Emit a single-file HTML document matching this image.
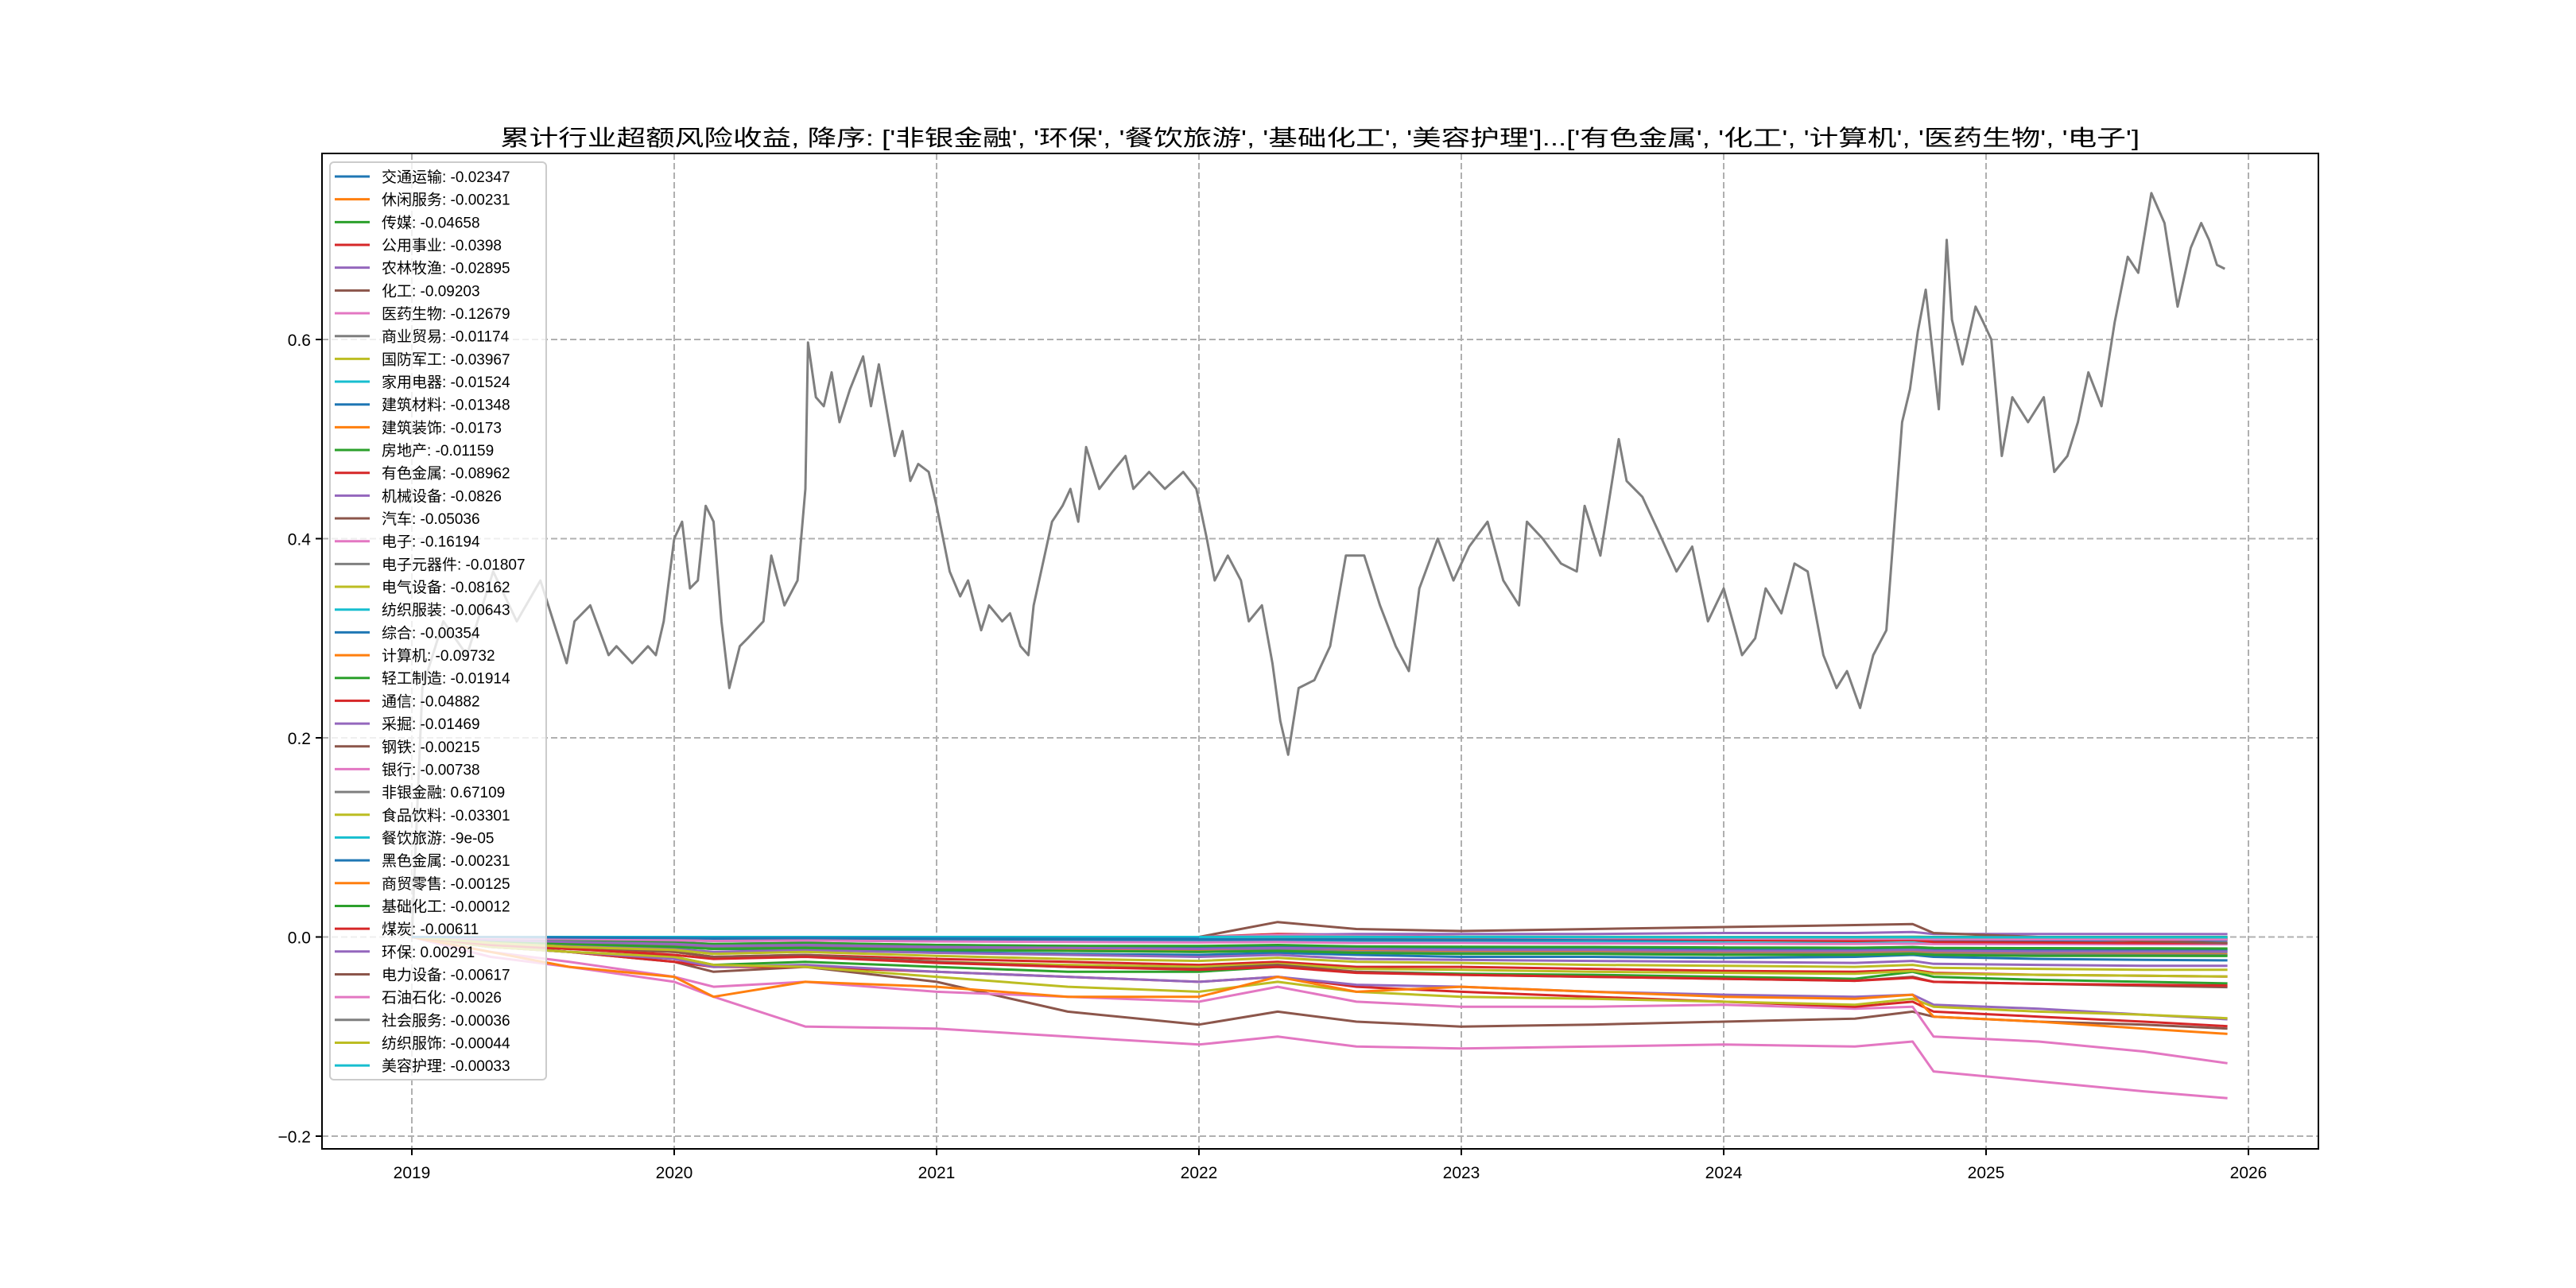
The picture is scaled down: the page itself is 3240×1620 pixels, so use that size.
<!DOCTYPE html>
<html><head><meta charset="utf-8">
<style>
html,body{margin:0;padding:0;background:#fff;}
svg{display:block;}
text{font-family:"Liberation Sans","Noto Sans CJK SC",sans-serif;}
</style></head>
<body>
<svg id="chart" width="3240" height="1620" viewBox="0 0 3240 1620" xmlns="http://www.w3.org/2000/svg">
<rect x="0" y="0" width="3240" height="1620" fill="#fff"/>
<text x="1660" y="183" text-anchor="middle" font-size="28" textLength="2062" lengthAdjust="spacingAndGlyphs" fill="#000" style="font-family:'Liberation Sans','Noto Sans CJK SC',sans-serif">累计行业超额风险收益,  降序: ['非银金融', '环保', '餐饮旅游', '基础化工', '美容护理']...['有色金属', '化工', '计算机', '医药生物', '电子']</text>
<g id="grid"></g>
<g id="series"></g>
<rect x="405" y="193" width="2511" height="1252" fill="none" stroke="#000" stroke-width="2"/>
<g id="axes"></g>
<g id="legend"></g>
</svg>
<script>
const names = ["交通运输","休闲服务","传媒","公用事业","农林牧渔","化工","医药生物","商业贸易","国防军工","家用电器","建筑材料","建筑装饰","房地产","有色金属","机械设备","汽车","电子","电子元器件","电气设备","纺织服装","综合","计算机","轻工制造","通信","采掘","钢铁","银行","非银金融","食品饮料","餐饮旅游","黑色金属","商贸零售","基础化工","煤炭","环保","电力设备","石油石化","社会服务","纺织服饰","美容护理"];
const legendValues = ["-0.02347","-0.00231","-0.04658","-0.0398","-0.02895","-0.09203","-0.12679","-0.01174","-0.03967","-0.01524","-0.01348","-0.0173","-0.01159","-0.08962","-0.0826","-0.05036","-0.16194","-0.01807","-0.08162","-0.00643","-0.00354","-0.09732","-0.01914","-0.04882","-0.01469","-0.00215","-0.00738","0.67109","-0.03301","-9e-05","-0.00231","-0.00125","-0.00012","-0.00611","0.00291","-0.00617","-0.0026","-0.00036","-0.00044","-0.00033"];
const palette = ["#1f77b4","#ff7f0e","#2ca02c","#d62728","#9467bd","#8c564b","#e377c2","#7f7f7f","#bcbd22","#17becf"];
const xTicks = [2019,2020,2021,2022,2023,2024,2025,2026];
const yTicks = [-0.2,0.0,0.2,0.4,0.6];
const yTickLabels = ["\u22120.2","0.0","0.2","0.4","0.6"];
const T = [2019.0,2019.3,2019.6,2020.0,2020.15,2020.5,2021.0,2021.5,2022.0,2022.3,2022.6,2023.0,2023.5,2024.0,2024.5,2024.72,2024.8,2025.2,2025.6,2025.92];
const N = null;
const seriesVals = [
[0,-0.005,-0.008,-0.01,-0.012,-0.012,-0.015,-0.017,-0.018,-0.016,-0.018,-0.02,-0.02,-0.021,-0.02,-0.018,-0.02,-0.022,-0.023,-0.0235],
[0,0,-0.001,-0.001,-0.0015,-0.001,-0.0015,-0.002,-0.002,-0.002,-0.002,-0.002,-0.002,-0.002,-0.002,-0.002,-0.0022,-0.0022,-0.0023,-0.0023],
[0,-0.01,-0.015,-0.02,-0.028,-0.025,-0.03,-0.035,-0.035,-0.03,-0.035,-0.037,-0.038,-0.04,-0.042,-0.035,-0.04,-0.043,-0.045,-0.0466],
[0,-0.008,-0.012,-0.015,-0.02,-0.018,-0.022,-0.025,-0.028,-0.025,-0.03,-0.03,-0.032,-0.034,-0.035,-0.033,-0.036,-0.038,-0.039,-0.0398],
[0,-0.005,-0.008,-0.012,-0.015,-0.013,-0.016,-0.018,-0.02,-0.018,-0.022,-0.023,-0.024,-0.025,-0.026,-0.024,-0.027,-0.028,-0.029,-0.029],
[0,-0.008,-0.015,-0.025,-0.035,-0.03,-0.045,-0.075,-0.088,-0.075,-0.085,-0.09,-0.088,-0.085,-0.082,-0.075,-0.08,-0.085,-0.088,-0.092],
[0,-0.015,-0.025,-0.04,-0.05,-0.045,-0.055,-0.06,-0.065,-0.05,-0.065,-0.07,-0.07,-0.068,-0.072,-0.07,-0.1,-0.105,-0.115,-0.1268],
[0,-0.002,-0.004,-0.005,-0.007,-0.006,-0.008,-0.009,-0.01,-0.009,-0.01,-0.01,-0.011,-0.011,-0.011,-0.01,-0.011,-0.0115,-0.0117,-0.0117],
[0,-0.005,-0.01,-0.015,-0.02,-0.018,-0.025,-0.028,-0.03,-0.027,-0.032,-0.033,-0.035,-0.036,-0.037,-0.034,-0.037,-0.038,-0.039,-0.0397],
[0,-0.003,-0.005,-0.007,-0.009,-0.008,-0.01,-0.011,-0.012,-0.011,-0.012,-0.013,-0.013,-0.014,-0.014,-0.013,-0.014,-0.015,-0.015,-0.0152],
[0,-0.003,-0.005,-0.007,-0.008,-0.007,-0.009,-0.01,-0.0105,-0.0095,-0.011,-0.011,-0.0116,-0.012,-0.0124,-0.0119,-0.0125,-0.0129,-0.0132,-0.0135],
[0,-0.003,-0.006,-0.009,-0.011,-0.01,-0.012,-0.013,-0.014,-0.012,-0.014,-0.015,-0.015,-0.016,-0.016,-0.015,-0.016,-0.017,-0.017,-0.0173],
[0,-0.002,-0.004,-0.006,-0.007,-0.006,-0.008,-0.009,-0.009,-0.008,-0.0095,-0.0098,-0.01,-0.0105,-0.0108,-0.0103,-0.011,-0.0112,-0.0114,-0.0116],
[0,-0.01,-0.015,-0.025,-0.03,-0.03,-0.035,-0.04,-0.045,-0.04,-0.05,-0.055,-0.06,-0.065,-0.07,-0.065,-0.075,-0.08,-0.085,-0.0896],
[0,-0.01,-0.015,-0.022,-0.03,-0.028,-0.035,-0.04,-0.045,-0.04,-0.048,-0.05,-0.055,-0.058,-0.06,-0.058,-0.068,-0.072,-0.078,-0.0826],
[0,-0.006,-0.01,-0.015,-0.02,-0.018,-0.025,-0.03,-0.032,-0.028,-0.035,-0.038,-0.04,-0.042,-0.044,-0.04,-0.045,-0.047,-0.049,-0.0504],
[0,-0.02,-0.03,-0.045,-0.06,-0.09,-0.092,-0.1,-0.108,-0.1,-0.11,-0.112,-0.11,-0.108,-0.11,-0.105,-0.135,-0.145,-0.155,-0.1619],
[0,-0.004,-0.007,-0.009,-0.011,-0.01,-0.012,-0.014,-0.015,-0.013,-0.015,-0.016,-0.016,-0.017,-0.017,-0.016,-0.017,-0.0175,-0.018,-0.0181],
[0,-0.01,-0.015,-0.02,-0.028,-0.03,-0.04,-0.05,-0.055,-0.045,-0.055,-0.06,-0.062,-0.065,-0.068,-0.062,-0.07,-0.075,-0.078,-0.0816],
[0,-0.001,-0.002,-0.003,-0.004,-0.0035,-0.004,-0.0045,-0.005,-0.0045,-0.005,-0.0052,-0.0055,-0.0057,-0.006,-0.0058,-0.006,-0.0062,-0.0063,-0.0064],
[0,-0.001,-0.001,-0.0015,-0.002,-0.002,-0.0022,-0.0025,-0.0027,-0.0025,-0.0028,-0.003,-0.003,-0.0032,-0.0033,-0.0032,-0.0034,-0.0035,-0.0035,-0.0035],
[0,-0.015,-0.03,-0.04,-0.06,-0.045,-0.05,-0.06,-0.06,-0.04,-0.055,-0.05,-0.055,-0.06,-0.062,-0.058,-0.08,-0.085,-0.092,-0.0973],
[0,-0.004,-0.007,-0.01,-0.012,-0.011,-0.013,-0.014,-0.015,-0.014,-0.016,-0.017,-0.017,-0.018,-0.018,-0.017,-0.018,-0.019,-0.019,-0.0191],
[0,-0.008,-0.012,-0.018,-0.022,-0.02,-0.026,-0.03,-0.033,-0.03,-0.036,-0.038,-0.04,-0.042,-0.044,-0.041,-0.045,-0.047,-0.048,-0.0488],
[0,-0.003,-0.005,-0.007,-0.009,-0.008,-0.01,-0.011,-0.012,-0.011,-0.012,-0.013,-0.013,-0.014,-0.014,-0.013,-0.014,-0.0145,-0.0147,-0.0147],
[0,0,-0.0005,-0.001,-0.0012,-0.001,-0.0013,-0.0015,-0.0017,-0.0015,-0.0017,-0.0018,-0.0019,-0.002,-0.002,-0.0019,-0.002,-0.0021,-0.0021,-0.0022],
[0,-0.001,-0.002,-0.003,-0.004,-0.0035,-0.0045,-0.005,-0.0055,-0.005,-0.006,-0.006,-0.0065,-0.0068,-0.007,-0.0067,-0.0071,-0.0072,-0.0073,-0.0074],
null,
[0,-0.006,-0.01,-0.013,-0.017,-0.015,-0.019,-0.022,-0.024,-0.021,-0.025,-0.026,-0.028,-0.029,-0.03,-0.028,-0.031,-0.032,-0.033,-0.033],
[0,0,0,0,0,0,0,0,0,0,0,0,0,0,0,0,0,0,-0.0001,-0.0001],
[0,0,-0.0005,-0.001,-0.0012,-0.001,-0.0013,-0.0015,-0.0017,-0.0015,-0.0017,-0.0018,-0.0019,-0.002,-0.002,-0.0019,-0.002,-0.0021,-0.0022,-0.0023],
[N,N,N,N,N,N,N,N,0,0.001,0,-0.0003,-0.0005,-0.0007,-0.0008,-0.0005,-0.0009,-0.001,-0.0012,-0.0013],
[N,N,N,N,N,N,N,N,0,0.0005,0.0003,0.0002,0.0001,0,0,0.0002,0,-0.0001,-0.0001,-0.0001],
[N,N,N,N,N,N,N,N,0,0.003,0.002,0,-0.001,-0.003,-0.004,-0.003,-0.005,-0.0055,-0.006,-0.0061],
[N,N,N,N,N,N,N,N,0,0.002,0.003,0.003,0.003,0.004,0.004,0.005,0.003,0.003,0.003,0.0029],
[N,N,N,N,N,N,N,N,0,0.015,0.008,0.006,0.008,0.01,0.012,0.013,0.004,0,-0.004,-0.0062],
[N,N,N,N,N,N,N,N,0,0.002,0.001,0,-0.001,-0.0015,-0.002,-0.0018,-0.0022,-0.0024,-0.0025,-0.0026],
[N,N,N,N,N,N,N,N,0,0.0002,0.0001,0,-0.0001,-0.0002,-0.0002,-0.0002,-0.0003,-0.0003,-0.0004,-0.0004],
[N,N,N,N,N,N,N,N,0,0.0002,0.0001,0,-0.0001,-0.0002,-0.0003,-0.0003,-0.0004,-0.0004,-0.0004,-0.0004],
[N,N,N,N,N,N,N,N,0,0.0002,0.0001,0,-0.0001,-0.0002,-0.0002,-0.0002,-0.0003,-0.0003,-0.0003,-0.0003]
];
const grayYears = [2019.00,2019.04,2019.12,2019.21,2019.31,2019.40,2019.49,2019.56,2019.59,2019.62,2019.68,2019.75,2019.78,2019.84,2019.90,2019.93,2019.96,2020.00,2020.03,2020.06,2020.09,2020.12,2020.15,2020.18,2020.21,2020.25,2020.28,2020.34,2020.37,2020.42,2020.47,2020.50,2020.51,2020.54,2020.57,2020.60,2020.63,2020.67,2020.72,2020.75,2020.78,2020.84,2020.87,2020.90,2020.93,2020.97,2021.00,2021.05,2021.09,2021.12,2021.17,2021.20,2021.25,2021.28,2021.32,2021.35,2021.37,2021.44,2021.48,2021.51,2021.54,2021.57,2021.62,2021.67,2021.72,2021.75,2021.81,2021.87,2021.94,2021.99,2022.03,2022.06,2022.11,2022.16,2022.19,2022.24,2022.28,2022.31,2022.34,2022.38,2022.44,2022.50,2022.56,2022.63,2022.69,2022.75,2022.80,2022.84,2022.91,2022.97,2023.03,2023.10,2023.16,2023.22,2023.25,2023.31,2023.38,2023.44,2023.47,2023.53,2023.60,2023.63,2023.69,2023.75,2023.82,2023.88,2023.94,2024.00,2024.07,2024.12,2024.16,2024.22,2024.27,2024.32,2024.38,2024.43,2024.47,2024.52,2024.57,2024.62,2024.68,2024.71,2024.74,2024.77,2024.82,2024.85,2024.87,2024.91,2024.96,2024.99,2025.02,2025.06,2025.10,2025.16,2025.22,2025.26,2025.31,2025.35,2025.39,2025.44,2025.49,2025.54,2025.58,2025.63,2025.68,2025.73,2025.78,2025.82,2025.85,2025.88,2025.91];
const grayVals = [0.0,0.25,0.317,0.283,0.367,0.317,0.358,0.30,0.275,0.317,0.333,0.283,0.292,0.275,0.292,0.283,0.317,0.40,0.417,0.35,0.358,0.433,0.417,0.317,0.25,0.292,0.30,0.317,0.383,0.333,0.358,0.45,0.597,0.542,0.533,0.567,0.517,0.55,0.583,0.533,0.575,0.483,0.508,0.458,0.475,0.467,0.433,0.367,0.342,0.358,0.308,0.333,0.317,0.325,0.292,0.283,0.333,0.417,0.433,0.45,0.417,0.492,0.45,0.467,0.483,0.45,0.467,0.45,0.467,0.45,0.40,0.358,0.383,0.358,0.317,0.333,0.275,0.217,0.183,0.25,0.258,0.292,0.383,0.383,0.333,0.292,0.267,0.35,0.40,0.358,0.392,0.417,0.358,0.333,0.417,0.40,0.375,0.367,0.433,0.383,0.50,0.458,0.442,0.408,0.367,0.392,0.317,0.35,0.283,0.30,0.35,0.325,0.375,0.367,0.283,0.25,0.267,0.23,0.283,0.308,0.517,0.55,0.608,0.65,0.53,0.70,0.62,0.575,0.633,0.617,0.60,0.483,0.542,0.517,0.542,0.467,0.483,0.517,0.567,0.533,0.617,0.683,0.667,0.747,0.717,0.633,0.692,0.717,0.70,0.675,0.671];

const NS = "http://www.w3.org/2000/svg";
const X0 = 405, X1 = 2916, Y0 = 193, Y1 = 1445;
function xScale(yr){ return 518 + (yr - 2019) * 330; }
function yScale(v){ return 1178.5 - v * 1252.5; }
function mk(tag, attrs, parent){ const e = document.createElementNS(NS, tag); for (const k in attrs) e.setAttribute(k, attrs[k]); parent.appendChild(e); return e; }

const grid = document.getElementById('grid');
const axes = document.getElementById('axes');
xTicks.forEach((t) => {
  const x = xScale(t);
  const gl = mk('line', {x1:x, x2:x, y1:Y0, y2:Y1, stroke:'#b0b0b0', 'stroke-width':2, 'stroke-dasharray':'8,4'}, grid);
  
  
  const tk = mk('line', {x1:x, x2:x, y1:Y1, y2:Y1+8, stroke:'#000', 'stroke-width':2}, axes);
  
  
  const lb = mk('text', {x:x, y:Y1+37, 'text-anchor':'middle', 'font-size':21, fill:'#000'}, axes);
  lb.textContent = String(t);
  
  
});
yTicks.forEach((t, i) => {
  const y = yScale(t);
  const gl = mk('line', {x1:X0, x2:X1, y1:y, y2:y, stroke:'#b0b0b0', 'stroke-width':2, 'stroke-dasharray':'8,4'}, grid);
  
  
  const tk = mk('line', {x1:X0-8, x2:X0, y1:y, y2:y, stroke:'#000', 'stroke-width':2}, axes);
  
  
  const lb = mk('text', {x:X0-14, y:y+8, 'text-anchor':'end', 'font-size':21, fill:'#000'}, axes);
  lb.textContent = yTickLabels[i];
  
  
});

const sg = document.getElementById('series');
function pathFrom(xs, vs){
  let d = '', started = false;
  for (let i = 0; i < xs.length; i++){
    if (vs[i] === null) continue;
    d += (started ? 'L' : 'M') + xScale(xs[i]).toFixed(1) + ',' + yScale(vs[i]).toFixed(1);
    started = true;
  }
  return d;
}
names.forEach((n, i) => {
  const d = (i === 27) ? pathFrom(grayYears, grayVals) : pathFrom(T, seriesVals[i]);
  const p = mk('path', {d:d, fill:'none', stroke:palette[i % 10], 'stroke-width':3, 'stroke-linejoin':'round'}, sg);
  
  
});

const lg = document.getElementById('legend');
const box = mk('rect', {x:415, y:204, width:272, height:1154, rx:5, fill:'#fff', 'fill-opacity':0.8, stroke:'#cccccc', 'stroke-width':2}, lg);


names.forEach((n, i) => {
  const y = 222 + i * 28.67;
  const ln = mk('line', {x1:421, x2:465, y1:y, y2:y, stroke:palette[i % 10], 'stroke-width':3}, lg);
  
  
  const tx = mk('text', {x:480, y:y+7, 'font-size':19, fill:'#000'}, lg);
  tx.textContent = n + ': ' + legendValues[i];
  
  
});
</script>
</body></html>
